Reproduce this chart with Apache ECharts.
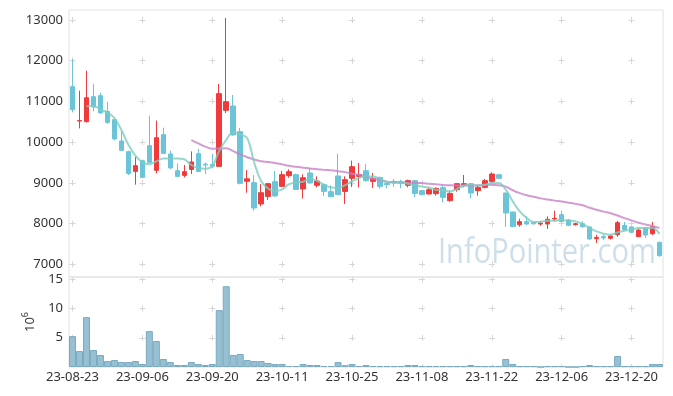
<!DOCTYPE html>
<html><head><meta charset="utf-8">
<script src="https://cdn.jsdelivr.net/npm/echarts@6/dist/echarts.min.js"></script>
<style>html,body{margin:0;padding:0;background:#fff}#c{width:673px;height:396px}</style>
</head><body><div id="c"></div>
<script>
const dates = ['23-08-23','23-08-24','23-08-25','23-08-28','23-08-29','23-08-30','23-08-31','23-09-01','23-09-04','23-09-05','23-09-06','23-09-07','23-09-08','23-09-11','23-09-12','23-09-13','23-09-14','23-09-15','23-09-18','23-09-19','23-09-20','23-09-21','23-09-22','23-09-25','23-09-26','23-09-27','23-10-04','23-10-05','23-10-06','23-10-10','23-10-11','23-10-12','23-10-13','23-10-16','23-10-17','23-10-18','23-10-19','23-10-20','23-10-23','23-10-24','23-10-25','23-10-26','23-10-27','23-10-30','23-10-31','23-11-01','23-11-02','23-11-03','23-11-06','23-11-07','23-11-08','23-11-09','23-11-10','23-11-13','23-11-14','23-11-15','23-11-16','23-11-17','23-11-20','23-11-21','23-11-22','23-11-23','23-11-24','23-11-27','23-11-28','23-11-29','23-11-30','23-12-01','23-12-04','23-12-05','23-12-06','23-12-07','23-12-08','23-12-11','23-12-12','23-12-13','23-12-14','23-12-15','23-12-18','23-12-19','23-12-20','23-12-21','23-12-22','23-12-26','23-12-27'];

const opens  = [11363,10520,10503,11117,11142,10756,10552,10029,9767,9283,9546,9914,9308,10184,9710,9300,9185,9332,9718,9460,9450,9406,10781,10889,10258,9040,9006,8483,8669,9030,8915,9178,9202,8851,9244,8940,8957,8785,9170,8792,9112,9161,9300,9038,9136,8990,9038,9030,8940,9055,8810,8728,8736,8883,8564,8834,8957,8981,8810,8891,9038,9202,8752,8286,7974,8048,8030,7990,7992,8114,8220,8090,7974,7999,7919,7631,7680,7640,7729,7958,7919,7680,7893,7753,7540];
const closes = [10798,10530,11092,10864,10717,10486,10079,9799,9234,9423,9136,9504,10110,9725,9367,9160,9276,9514,9283,9440,9410,11191,10994,10177,8989,9100,8385,8760,8981,8679,9202,9276,8841,9128,8998,9047,8792,8662,8711,9080,9399,9202,9055,9112,8915,8957,9000,8995,9055,8743,8711,8834,8866,8645,8743,8981,8981,8752,8891,9055,9219,9112,8262,7932,8048,7990,7995,8010,8106,8130,8056,7958,7999,7925,7624,7661,7650,7695,8024,7852,7787,7844,7720,7925,7213];
const lows   = [10732,10339,10486,10756,10700,10454,10044,9784,9195,8957,9120,9490,9234,9710,9343,9150,9136,9219,9266,9220,9360,9400,10717,10160,8965,8760,8318,8424,8581,8660,8900,9128,8840,8620,8990,8890,8680,8650,8711,8483,8900,8890,9030,8875,8866,8866,8900,8870,8890,8654,8700,8720,8687,8522,8540,8785,8891,8620,8687,8866,9006,9110,7919,7910,7925,7970,7980,7950,7869,8056,8024,7950,7950,7900,7600,7525,7595,7610,7680,7840,7770,7670,7650,7720,7190];
const highs  = [12043,11264,11755,11436,11215,10994,10570,10275,9790,9637,9570,10651,10528,10356,9791,9480,9440,9774,9833,9500,9710,11429,13050,11159,10349,9317,9195,8970,8990,9293,9293,9333,9227,9210,9367,9160,8960,8940,9718,9161,9546,9489,9465,9244,9150,9040,9096,9080,9080,9060,8820,8891,8890,8932,8810,8990,9195,8990,8940,9096,9260,9210,8760,8290,8122,8179,8040,8056,8180,8318,8318,8114,8024,8060,7930,7729,7729,7729,8065,8040,7930,7860,7920,8040,7560];

// volume in millions
const volumes = [5.29,2.73,8.53,2.90,2.05,1.02,1.19,0.85,0.85,1.02,0.51,6.14,4.44,1.37,0.85,0.34,0.34,0.85,0.51,0.34,0.51,9.73,13.82,2.05,2.22,1.19,1.02,1.02,0.68,0.51,0.51,0.17,0.17,0.51,0.34,0.34,0.17,0.17,0.85,0.3,0.51,0.17,0.34,0.17,0.15,0.15,0.15,0.15,0.34,0.34,0.15,0.15,0.15,0.15,0.15,0.15,0.15,0.34,0.15,0.15,0.15,0.15,1.37,0.51,0.15,0.15,0.15,0,0.15,0.15,0.15,0,0,0.15,0.34,0.15,0.15,0.15,1.88,0.15,0.15,0.15,0.15,0.51,0.51];

const maShort = ['-','-',10880,10890,10800,10730,10590,10300,9940,9670,9510,9460,9530,9600,9600,9600,9580,9440,9365,9350,9410,9790,10060,10240,10190,10100,9500,9040,8860,8800,8840,8970,9013,9030,9100,9050,8957,8885,8875,8945,9038,9121,9155,9155,9096,9020,9005,9000,8980,8940,8910,8885,8834,8818,8792,8851,8932,8957,8935,8957,8998,8998,8834,8547,8301,8139,8040,8048,8070,8073,8081,8073,8056,7992,7893,7810,7754,7729,7786,7827,7852,7893,7893,7893,7745];
const maLong = ['-','-','-','-','-','-','-','-','-','-','-','-','-','-','-','-','-',10050,9970,9890,9840,9845,9850,9780,9700,9630,9575,9530,9515,9490,9455,9420,9395,9375,9355,9335,9320,9310,9285,9265,9225,9200,9150,9100,9070,9030,9020,9013,9005,9000,8995,8980,8965,8950,8942,8938,8935,8932,8940,8950,8955,8940,8910,8820,8750,8695,8660,8620,8590,8565,8545,8515,8485,8450,8390,8340,8295,8255,8200,8135,8080,8020,7980,7940,7890];

const chart = echarts.init(document.getElementById('c'), null, {renderer: 'canvas'});
const ohlc = dates.map((d, i) => [opens[i], closes[i], lows[i], highs[i]]);
const crossColor = '#d6d6d6';
const FONT = '"Noto Sans", sans-serif';

function crossAxisX(gi, dash, off) {
  return {type: 'value', gridIndex: gi, min: -0.5, max: 84.5, splitNumber: 8, position: 'top',
    axisLine: {show: false}, axisTick: {show: false}, axisLabel: {show: false},
    splitLine: {show: true, showMinLine: false, showMaxLine: false,
      lineStyle: {color: crossColor, width: 1, type: dash, dashOffset: off}}};
}

const option = {
  animation: false,
  textStyle: {fontFamily: FONT},
  grid: [
    {left: 69, right: 10, top: 10, height: 267, show: true, borderColor: '#e2e2e2', borderWidth: 1},
    {left: 69, right: 10, top: 277, height: 90, show: true, borderColor: '#e2e2e2', borderWidth: 1}
  ],
  xAxis: [
    {type: 'category', gridIndex: 0, data: dates, boundaryGap: true, axisLine: {show: false}, axisTick: {show: false}, axisLabel: {show: false}, splitLine: {show: false}},
    {type: 'category', gridIndex: 1, data: dates, boundaryGap: true, axisLine: {show: false}, axisTick: {show: false},
      axisLabel: {interval: 9, color: '#333', fontSize: 13, margin: 4, fontFamily: FONT}, splitLine: {show: false}},
    crossAxisX(0, [6, 34.73], 33.75),
    crossAxisX(1, [6, 23.22], 0.66)
  ],
  yAxis: [
    {type: 'value', gridIndex: 0, min: 6690, max: 13245, splitNumber: 6, axisLine: {show: false}, axisTick: {show: false},
      axisLabel: {color: '#333', fontSize: 13, margin: 6, showMinLabel: false, showMaxLabel: false, fontFamily: FONT, formatter: v => String(v)},
      splitLine: {show: true, showMinLine: false, showMaxLine: false, lineStyle: {color: crossColor, width: 1, type: [6, 63.88], dashOffset: 69.38}}},
    {type: 'value', gridIndex: 1, min: 0, max: 15.4, interval: 5, axisLine: {show: false}, axisTick: {show: false},
      axisLabel: {color: '#333', fontSize: 13, margin: 6, showMinLabel: false, showMaxLabel: false, fontFamily: FONT, formatter: v => String(v)},
      name: '{b|10}{s|6}', nameLocation: 'middle', nameGap: 30, nameRotate: 90,
      nameTextStyle: {rich: {b: {fontSize: 13, color: '#333', fontFamily: FONT}, s: {fontSize: 9, color: '#333', fontFamily: FONT, padding: [0, 0, 9, 0]}}},
      splitLine: {show: true, showMinLine: false, showMaxLine: false, lineStyle: {color: crossColor, width: 1, type: [6, 63.88], dashOffset: 69.38}}}
  ],
  graphic: [{type: 'text', x: 438, y: 236, scaleX: 0.855, z: 0,
    style: {text: 'InfoPointer.com', font: '34px "Open Sans", sans-serif', fill: 'rgba(160,192,212,0.5)', align: 'left', verticalAlign: 'top'}}],
  series: [
    {type: 'line', name: 'MA long', xAxisIndex: 0, yAxisIndex: 0, data: maLong, smooth: 0.4, showSymbol: false,
      lineStyle: {color: 'rgba(200,130,200,0.8)', width: 2}},
    {type: 'line', name: 'MA short', xAxisIndex: 0, yAxisIndex: 0, data: maShort, smooth: 0.4, showSymbol: false,
      lineStyle: {color: 'rgba(125,205,190,0.8)', width: 2}},
    {type: 'candlestick', xAxisIndex: 0, yAxisIndex: 0, data: ohlc, barWidth: 5,
      itemStyle: {color: '#ef3b3b', color0: '#6cc4d9', borderColor: '#ef3b3b', borderColor0: '#6cc4d9', borderWidth: 1}},
    {type: 'bar', xAxisIndex: 1, yAxisIndex: 1, data: volumes, barWidth: '100%',
      itemStyle: {color: 'rgba(140,185,205,0.9)', borderColor: '#7aaac1', borderWidth: 1}}
  ]
};
chart.setOption(option);
</script>
</body></html>
